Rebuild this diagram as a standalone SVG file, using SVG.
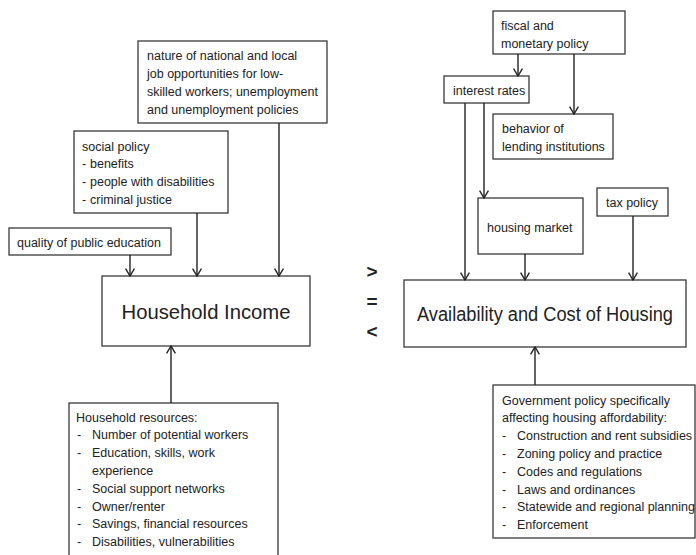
<svg xmlns="http://www.w3.org/2000/svg" width="696" height="555" viewBox="0 0 696 555">
<style>
  .box { fill: #ffffff; stroke: #3a3a3a; stroke-width: 1.3; }
  .t { font-family: "Liberation Sans", Arial, sans-serif; font-size: 12.5px; fill: #222222; }
  .big { font-family: "Liberation Sans", Arial, sans-serif; font-size: 19.5px; fill: #222222; }
  .sym { font-family: "Liberation Sans", Arial, sans-serif; font-size: 19px; font-weight: bold; fill: #222222; text-anchor: middle; }
  .conn path { fill: none; stroke: #222222; stroke-width: 1.4; marker-end: url(#ah); }
</style>
<defs>
  <marker id="ah" viewBox="0 0 10 10" refX="9.3" refY="5" markerWidth="10" markerHeight="10" markerUnits="userSpaceOnUse" orient="auto">
    <path d="M2,0.6 L9.3,5 L2,9.4" fill="none" stroke="#222222" stroke-width="1.4"/>
  </marker>
</defs>
<rect width="696" height="555" fill="#ffffff"/>

<g id="nature">
  <rect class="box" x="138" y="41" width="189" height="82"/>
  <text class="t" x="147" y="59.5">nature of national and local</text>
  <text class="t" x="147" y="77.5">job opportunities for low-</text>
  <text class="t" x="147" y="95.5">skilled workers; unemployment</text>
  <text class="t" x="147" y="113.5">and unemployment policies</text>
</g>

<g id="social">
  <rect class="box" x="74" y="131" width="154" height="82"/>
  <text class="t" x="82" y="150.5">social policy</text>
  <text class="t" x="82" y="168">-</text><text class="t" x="90" y="168">benefits</text>
  <text class="t" x="82" y="186">-</text><text class="t" x="90" y="186">people with disabilities</text>
  <text class="t" x="82" y="203.5">-</text><text class="t" x="90" y="203.5">criminal justice</text>
</g>

<g id="quality">
  <rect class="box" x="9" y="228" width="162" height="27"/>
  <text class="t" x="17" y="246.5">quality of public education</text>
</g>

<g id="household-income">
  <rect class="box" x="102" y="276" width="208" height="70"/>
  <text class="big" x="206" y="319" text-anchor="middle" textLength="169" lengthAdjust="spacingAndGlyphs">Household Income</text>
</g>

<g id="household-resources">
  <rect class="box" x="69" y="403" width="209" height="170"/>
  <text class="t" x="76" y="421.5">Household resources:</text>
  <text class="t" x="77" y="439.3">-</text><text class="t" x="92" y="439.3">Number of potential workers</text>
  <text class="t" x="77" y="457.1">-</text><text class="t" x="92" y="457.1">Education, skills, work</text>
  <text class="t" x="92" y="474.9">experience</text>
  <text class="t" x="77" y="492.7">-</text><text class="t" x="92" y="492.7">Social support networks</text>
  <text class="t" x="77" y="510.5">-</text><text class="t" x="92" y="510.5">Owner/renter</text>
  <text class="t" x="77" y="528.3">-</text><text class="t" x="92" y="528.3">Savings, financial resources</text>
  <text class="t" x="77" y="546.1">-</text><text class="t" x="92" y="546.1">Disabilities, vulnerabilities</text>
</g>

<g id="fiscal">
  <rect class="box" x="493" y="11" width="132" height="43"/>
  <text class="t" x="501" y="29.5">fiscal and</text>
  <text class="t" x="501" y="47.5">monetary policy</text>
</g>

<g id="interest-rates">
  <rect class="box" x="444" y="76" width="85" height="27"/>
  <text class="t" x="453" y="95">interest rates</text>
</g>

<g id="lending">
  <rect class="box" x="493" y="114" width="120" height="45"/>
  <text class="t" x="502" y="132.5">behavior of</text>
  <text class="t" x="502" y="150.5">lending institutions</text>
</g>

<g id="housing-market">
  <rect class="box" x="478" y="198" width="105" height="56"/>
  <text class="t" x="487" y="231.5">housing market</text>
</g>

<g id="tax">
  <rect class="box" x="597" y="188" width="71" height="28"/>
  <text class="t" x="606" y="207">tax policy</text>
</g>

<g id="housing">
  <rect class="box" x="404" y="280" width="282" height="67"/>
  <text class="big" x="545" y="320.5" text-anchor="middle" textLength="256" lengthAdjust="spacingAndGlyphs">Availability and Cost of Housing</text>
</g>

<g id="government">
  <rect class="box" x="493" y="385" width="202" height="153"/>
  <text class="t" x="502" y="404.5">Government policy specifically</text>
  <text class="t" x="502" y="422.3">affecting housing affordability:</text>
  <text class="t" x="502" y="440.1">-</text><text class="t" x="517" y="440.1">Construction and rent subsidies</text>
  <text class="t" x="502" y="457.9">-</text><text class="t" x="517" y="457.9">Zoning policy and practice</text>
  <text class="t" x="502" y="475.7">-</text><text class="t" x="517" y="475.7">Codes and regulations</text>
  <text class="t" x="502" y="493.5">-</text><text class="t" x="517" y="493.5">Laws and ordinances</text>
  <text class="t" x="502" y="511.3">-</text><text class="t" x="517" y="511.3">Statewide and regional planning</text>
  <text class="t" x="502" y="529.1">-</text><text class="t" x="517" y="529.1">Enforcement</text>
</g>

<g id="comparison">
  <text class="sym" x="372" y="277.5">&gt;</text>
  <text class="sym" x="372" y="308">=</text>
  <text class="sym" x="372" y="338">&lt;</text>
</g>

<g id="connectors" class="conn">
  <path d="M130,255 V276"/>
  <path d="M197,213 V276"/>
  <path d="M279,123 V276"/>
  <path d="M171,403 V346"/>
  <path d="M518,54 V76"/>
  <path d="M574,54 V114"/>
  <path d="M465,103 V280"/>
  <path d="M484,103 V198"/>
  <path d="M525,254 V280"/>
  <path d="M633,216 V280"/>
  <path d="M535,385 V347"/>
</g>
</svg>
